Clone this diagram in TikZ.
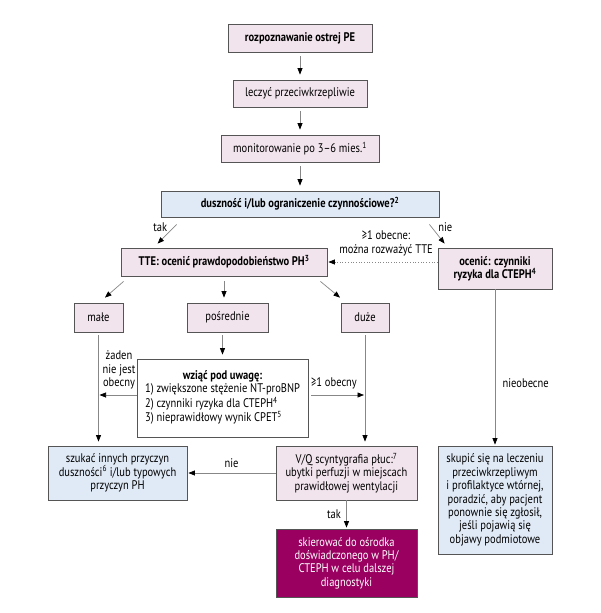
\documentclass[tikz,border=0pt]{standalone}
\usepackage{fontspec}
\setmainfont{PT Sans}[FakeStretch=0.84]
\usepackage{tikz}
\usetikzlibrary{arrows.meta}

\definecolor{boxpink}{RGB}{242,228,237}
\definecolor{boxblue}{RGB}{224,234,246}
\definecolor{boxedge}{RGB}{85,85,85}
\definecolor{refer}{RGB}{153,0,96}
\definecolor{linegray}{RGB}{135,135,135}

\begin{document}
\begin{tikzpicture}[x=1pt,y=-1pt,>={Triangle[black,length=6.5pt,width=5pt]},node distance=55.5pt,
  every node/.style={font=\fontsize{12.5}{13.4}\selectfont},
  pinkbox/.style={draw=boxedge, line width=0.8pt, fill=boxpink, rectangle, align=center, inner sep=2pt},
  bluebox/.style={draw=boxedge, line width=0.8pt, fill=boxblue, rectangle, align=center, inner sep=2pt},
  arr/.style={->, draw=linegray, line width=0.7pt},
  lbl/.style={align=center, inner sep=2pt}]
  \fill[white] (0,0) rectangle (600,613);
  \useasboundingbox (0,0) rectangle (600,613);

  % top chain
  \node[pinkbox, minimum width=144pt, minimum height=28pt] (pe) at (300,38) {\textbf{rozpoznawanie ostrej PE}};
  \node[pinkbox, below of=pe, minimum width=134pt, minimum height=27pt] (leczyc) {leczyć przeciwkrzepliwie};
  \node[pinkbox, below of=leczyc, minimum width=158pt, minimum height=27pt, node distance=55pt] (monit) {monitorowanie po 3–6 mies.\textsuperscript{1}};
  \node[bluebox, below of=monit, minimum width=278pt, minimum height=26pt] (dusz) {\textbf{duszność i/lub ograniczenie czynnościowe?\textsuperscript{2}}};

  \draw[arr, shorten <=4pt, shorten >=5pt] (pe) -- (leczyc);
  \draw[arr, shorten <=4pt, shorten >=5pt] (leczyc) -- (monit);
  \draw[arr, shorten <=4pt, shorten >=5pt] (monit) -- (dusz);

  % second row
  \node[pinkbox, minimum width=206pt, minimum height=28pt] (tte) at (224,262) {\textbf{TTE: ocenić prawdopodobieństwo PH\textsuperscript{3}}};
  \node[pinkbox, minimum width=114pt, minimum height=41pt] (ocen) at (495,268.5) {\textbf{ocenić: czynniki}\\\textbf{ryzyka dla CTEPH\textsuperscript{4}}};

  \draw[arr] ([xshift=16pt,yshift=-7pt]dusz.south west) -- ([xshift=37pt,yshift=4pt]tte.north west) node[pos=0.15, left=3pt] {tak};
  \draw[arr] ([xshift=-10pt,yshift=-7pt]dusz.south east) -- ([xshift=7pt,yshift=4pt]ocen.north west) node[pos=0.15, right=3pt] {nie};
  \draw[arr, dotted, shorten >=1pt] ([yshift=6.5pt]ocen.west) -- (tte.east);
  \node[lbl] (obecne) at (386,243.5) {≥1 obecne:\\można rozważyć TTE};

  % probability
  \node[pinkbox, minimum width=49pt, minimum height=29pt] (male) at (98.5,317.5) {małe};
  \node[pinkbox, minimum width=81pt, minimum height=29pt] (posr) at (227.5,317.5) {pośrednie};
  \node[pinkbox, minimum width=48pt, minimum height=29pt] (duze) at (365,317.5) {duże};

  \draw[arr] ([xshift=3pt,yshift=-5pt]tte.south west) -- ([xshift=6.5pt,yshift=5pt]male.north);
  \draw[arr, shorten <=5pt, shorten >=5pt] (tte.south) -- (tte.south |- posr.north);
  \draw[arr] ([xshift=-7pt,yshift=-5pt]tte.south east) -- ([xshift=-25pt,yshift=5pt]duze.north);

  \node[draw=boxedge, line width=0.8pt, fill=white, minimum width=171pt, minimum height=78pt, inner sep=2pt] (wziac) at (222.5,398)
    {\begin{tabular}{@{}l@{}}\multicolumn{1}{@{}c@{}}{\textbf{wziąć pod uwagę:}}\\
     1) zwiększone stężenie NT-proBNP\\
     2) czynniki ryzyka dla CTEPH\textsuperscript{4}\\
     3) nieprawidłowy wynik CPET\textsuperscript{5}\end{tabular}};

  \draw[arr, shorten <=3pt, shorten >=4pt] (wziac.north |- posr.south) -- (wziac.north);
  \draw[arr, shorten >=1pt] ([yshift=3pt]wziac.west) -- ([yshift=3pt]wziac.west -| male.south);
  \draw[arr, shorten <=3pt, shorten >=1pt] ([yshift=3pt]wziac.east) -- ([yshift=3pt]wziac.east -| duze.south);
  \node[lbl] (zaden) at (119,370) {żaden\\nie jest\\obecny};
  \node[lbl] (obecny) at (334,383) {≥1 obecny};

  % bottom row
  \node[bluebox, minimum width=139pt, minimum height=54pt] (szukac) at (117.5,473) {szukać innych przyczyn\\duszności\textsuperscript{6} i/lub typowych\\przyczyn PH};
  \node[pinkbox, minimum width=141pt, minimum height=54pt] (vq) at (346.5,473) {V/Q scyntygrafia płuc:\textsuperscript{7}\\ubytki perfuzji w miejscach\\prawidłowej wentylacji};
  \node[bluebox, minimum width=114pt, minimum height=108pt] (skupic) at (495,500) {skupić się na leczeniu\\przeciwkrzepliwym\\i profilaktyce wtórnej,\\poradzić, aby pacjent\\ponownie się zgłosił,\\jeśli pojawią się\\objawy podmiotowe};
  \node[draw=boxedge, line width=0.8pt, fill=refer, text=white, align=center, minimum width=141pt, minimum height=68pt, inner sep=2pt] (skier) at (346.5,563) {skierować do ośrodka\\doświadczonego w PH/\\CTEPH w celu dalszej\\diagnostyki};

  \draw[arr, shorten <=3pt, shorten >=4pt] (male.south) -- (male.south |- szukac.north);
  \draw[arr, shorten <=3pt, shorten >=4pt] (duze.south) -- (duze.south |- vq.north);
  \draw[arr, shorten >=1pt] (vq.west) -- (szukac.east) node[midway, above=2pt] {nie};
  \draw[arr, shorten >=1pt] (vq.south) -- (skier.north) node[midway, left=2pt] {tak};
  \draw[arr, shorten >=1pt] (ocen.south) -- (skupic.north) node[pos=0.6, right=4pt] {nieobecne};
\end{tikzpicture}
\end{document}
